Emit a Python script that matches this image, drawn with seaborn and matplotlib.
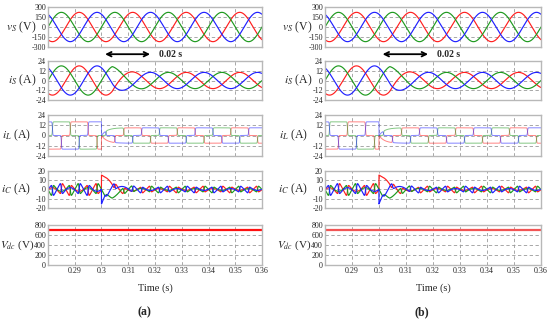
import numpy as np
import pandas as pd
import seaborn as sns
import matplotlib.pyplot as plt

# waveform parameters
PANEL_LABELS = ["(a)", "(b)"]
PHASE_NAMES = ["a", "b", "c"]
PHASE_COLORS = ["#ff1f1f", "#1f9a1f", "#2020ff"]   # red, green, blue
PHASE_DEG = [150, 270, 30]        # phase angle of each line at t = 0.28 s
F_GRID = 50                       # Hz
T_STEP = 0.3                      # load step instant (s)
VS_AMP = 220                      # V
IS_AMP = [18, 10]                 # A, before / after step
IL_LEVEL = [16, 9]                # A, before / after step
VDC_LEVEL = [700, 700]            # V, panel a / panel b
VDC_COLORS = ["#ff1010", "#f25555"]
IS_DELAY = 0.004
IS_TAU = 0.003
IL_TAU = 0.002
IL_EDGE = 0.04                    # edge rounding of the inductor current
IC_EDGE = 0.07                    # edge rounding seen in the capacitor current

Y_LABELS = [r"$v_S$ (V)", r"$i_S$ (A)", r"$i_L$ (A)", r"$i_C$ (A)", r"$V_{dc}$ (V)"]
Y_TICKS = [[-300, -150, 0, 150, 300],
           [-24, -12, 0, 12, 24],
           [-24, -12, 0, 12, 24],
           [-20, -10, 0, 10, 20],
           [0, 200, 400, 600, 800]]
X_TICKS = [0.29, 0.30, 0.31, 0.32, 0.33, 0.34, 0.35, 0.36]
X_TICK_LABELS = ["0.29", "0.3", "0.31", "0.32", "0.33", "0.34", "0.35", "0.36"]
X_LIM = (0.28, 0.36)

sns.set_theme(style="white")
plt.rcParams["font.family"] = ["Liberation Serif", "DejaVu Serif"]
plt.rcParams["mathtext.fontset"] = "stix"
plt.rcParams["axes.unicode_minus"] = False


def quasi_square(theta, w):
    c = np.cos(theta)
    return 0.5 * (np.tanh((c - 0.5) / w) - np.tanh((-c - 0.5) / w))


t = np.linspace(X_LIM[0], X_LIM[1], 2401)
after = t >= T_STEP
dt = np.clip(t - T_STEP, 0, None)
is_amp = np.where(after, IS_AMP[1] + (IS_AMP[0] - IS_AMP[1]) *
                  np.exp(-np.clip(t - T_STEP - IS_DELAY, 0, None) / IS_TAU), IS_AMP[0])
il_amp = np.where(after, IL_LEVEL[1] * (1 - np.exp(-dt / IL_TAU)), IL_LEVEL[0])

rows = []
for name, deg in zip(PHASE_NAMES, PHASE_DEG):
    theta = 2 * np.pi * F_GRID * (t - X_LIM[0]) + np.deg2rad(deg)
    vs = VS_AMP * np.cos(theta)
    i_s = is_amp * np.cos(theta)
    il = il_amp * quasi_square(theta, IL_EDGE)
    ic = il_amp * quasi_square(theta, IC_EDGE) - i_s
    rows.append(pd.DataFrame({"t": t, "phase": name, "vs": vs, "is": i_s, "il": il, "ic": ic}))
df = pd.concat(rows, ignore_index=True)

fig = plt.figure(figsize=(5.5, 3.21), dpi=100)
W, H = 550.0, 321.0
panel_x = [(48, 262), (325, 541)]
rows_y = [(7, 47), (61, 100), (115, 156), (171, 208), (225, 265)]
label_x = [-0.056, -0.056, -0.08, -0.08, -0.065]
label_size = [8.5, 8.5, 8.5, 8.5, 8]
cols = ["vs", "is", "il", "ic"]

for p, (x0, x1) in enumerate(panel_x):
    axes = []
    for r, (y0, y1) in enumerate(rows_y):
        ax = fig.add_axes([x0 / W, 1 - y1 / H, (x1 - x0) / W, (y1 - y0) / H])
        axes.append(ax)
        if r < 4:
            lw = 0.7 if r == 2 else 0.85
            alpha = 0.55 if r == 2 else 1.0
            sns.lineplot(data=df, x="t", y=cols[r], hue="phase", palette=PHASE_COLORS,
                         estimator=None, legend=False, lw=lw, alpha=alpha, ax=ax)
        else:
            sns.lineplot(x=t, y=np.full_like(t, VDC_LEVEL[p]), color=VDC_COLORS[p],
                         lw=1.6, ax=ax)
        ax.set_xlim(*X_LIM)
        ax.set_ylim(Y_TICKS[r][0], Y_TICKS[r][-1])
        ax.set_yticks(Y_TICKS[r])
        ax.set_xticks(X_TICKS)
        ax.grid(True, ls=(0, (4, 3)), color="#9a9a9a", lw=0.6)
        for s in ax.spines.values():
            s.set_color("#b8b8b8")
            s.set_linewidth(1.0)
        ax.tick_params(length=0, labelsize=5.8, pad=1.5)
        ax.set_xlabel("")
        ax.set_ylabel(Y_LABELS[r], rotation=0, fontsize=label_size[r], ha="right", va="center")
        ax.yaxis.set_label_coords(label_x[r], 0.5)
        if r < 4:
            ax.set_xticklabels([])
        else:
            ax.set_xticklabels(X_TICK_LABELS)

    # 0.02 s marker between the first two plots
    axes[0].annotate("", xy=(0.3192, -0.18), xytext=(0.3003, -0.18),
                     xycoords=("data", "axes fraction"),
                     arrowprops=dict(arrowstyle="<->", lw=1.3, color="black", mutation_scale=8))
    axes[0].text(0.3215, -0.18, "0.02 s", transform=axes[0].get_xaxis_transform(),
                 fontsize=7, fontweight="bold", va="center", ha="left")

    cx = (x0 + x1) / 2 / W
    fig.text(cx, 1 - 288 / H, "Time (s)", ha="center", va="center", fontsize=7.5)
    fig.text(cx - 0.02, 1 - 312 / H, PANEL_LABELS[p], ha="center", va="center",
             fontsize=8.5, fontweight="bold")

fig.savefig("out.png", dpi=100)
